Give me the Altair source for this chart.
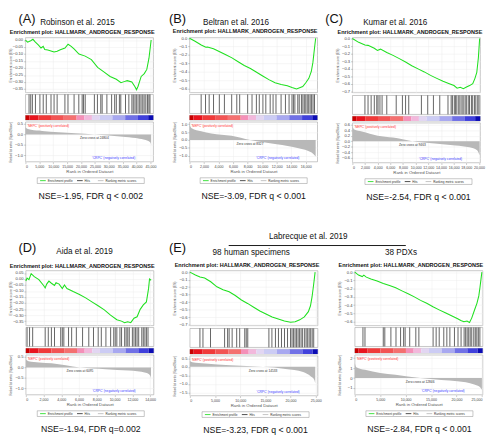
import altair as alt
import pandas as pd

# ---------------- data ----------------
TITLE = "Enrichment plot: HALLMARK_ANDROGEN_RESPONSE"
nse = ["NSE=-1.95, FDR q < 0.002", "NSE=-3.09, FDR q < 0.001", "NSE=-2.54, FDR q < 0.001",
       "NSE=-1.94, FDR q=0.002", "NSE=-3.23, FDR q < 0.001", "NSE=-2.84, FDR q < 0.001"]
zero_cross = [24804, 8327, 9463, 6095, 14533, 12846]
rank_max = [46000, 17600, 20200, 14400, 25400, 25150]
x_tick_step = [5000, 2000, 2000, 2000, 5000, 5000]
x_tick_max = [45000, 16000, 20000, 14000, 25000, 25000]

es_domain = [[-0.375, 0.017], [-0.647, 0.007], [-0.712, 0.012], [-0.387, 0.07], [-0.71, 0.02], [-0.647, 0.018]]
es_ticks = [[0.0, -0.05, -0.10, -0.15, -0.20, -0.25, -0.30, -0.35],
            [0.0, -0.1, -0.2, -0.3, -0.4, -0.5, -0.6],
            [0.0, -0.1, -0.2, -0.3, -0.4, -0.5, -0.6, -0.7],
            [0.05, 0.0, -0.05, -0.10, -0.15, -0.20, -0.25, -0.30, -0.35],
            [0.0, -0.1, -0.2, -0.3, -0.4, -0.5, -0.6, -0.7],
            [0.0, -0.1, -0.2, -0.3, -0.4, -0.5, -0.6]]
es_format = [".2f", ".1f", ".1f", ".2f", ".1f", ".1f"]

metric_domain = [[-1.3, 0.6], [-1.38, 1.15], [-0.77, 0.66], [-1.3, 0.6], [-1.68, 0.64], [-1.67, 2.33]]
metric_ticks = [[0.5, 0.0, -0.5, -1.0], [1.0, 0.5, 0.0, -0.5, -1.0],
                [0.6, 0.4, 0.2, 0.0, -0.2, -0.4, -0.6], [0.5, 0.0, -0.5, -1.0],
                [0.5, 0.0, -0.5, -1.0, -1.5], [2, 1, 0, -1]]
metric_format = [".1f", ".1f", ".1f", ".1f", ".1f", "d"]

# running enrichment score (rank in thousands, ES)
es_rank_k = [
    [0, 0.78, 1.90, 2.69, 3.58, 4.70, 5.60, 6.38, 6.94, 8.06, 9.18, 10.30, 11.42, 12.54, 14.22, 15.34, 16.46,
     17.57, 19.25, 21.49, 23.73, 25.97, 28.21, 30.45, 32.69, 34.37, 35.49, 36.60, 38.28, 39.40, 39.96, 40.52,
     41.64, 42.76, 43.66, 44.44, 45.22],
    [0, 0.76, 1.61, 2.24, 2.46, 3.30, 4.15, 4.99, 5.84, 6.69, 7.53, 8.38, 9.23, 10.07, 10.92, 11.77, 12.61,
     13.46, 14.10, 14.73, 15.15, 15.58, 16.00, 16.42, 16.76, 16.98, 17.19, 17.36],
    [0, 0.99, 1.98, 2.47, 3.46, 3.95, 4.44, 5.43, 6.42, 7.41, 8.40, 9.38, 10.37, 11.36, 12.35, 13.33, 14.32,
     15.31, 16.05, 16.54, 17.04, 17.53, 18.02, 18.52, 19.01, 19.36, 19.65, 19.90, 20.10],
    [0, 0.14, 0.35, 0.60, 0.95, 1.47, 2.00, 2.18, 2.35, 2.60, 2.88, 3.23, 3.40, 3.75, 4.11, 4.35, 4.63, 4.98,
     5.33, 6.04, 6.74, 7.44, 8.14, 8.84, 9.54, 10.25, 10.77, 11.12, 11.47, 11.82, 12.18, 12.53, 12.88, 13.23,
     13.58, 13.82, 13.93, 14.11],
    [0, 1.10, 2.01, 2.93, 4.15, 5.37, 6.59, 7.80, 9.02, 10.24, 11.46, 12.68, 13.90, 15.12, 16.34, 17.56,
     18.78, 20.00, 20.92, 21.83, 22.74, 23.54, 23.96, 24.27, 24.57, 24.88],
    [0, 0.73, 1.46, 1.77, 2.26, 3.17, 4.39, 5.61, 6.83, 8.05, 9.27, 10.49, 11.71, 12.93, 14.15, 15.37, 16.59,
     17.80, 19.02, 20.24, 20.85, 21.46, 22.07, 22.56, 22.99, 23.60, 24.02, 24.39, 24.63, 24.88, 25.00],
]
es_val = [
    [0, -0.015, -0.005, 0.005, -0.015, -0.036, -0.057, -0.045, -0.068, -0.072, -0.078, -0.085, -0.080, -0.070,
     -0.057, -0.030, -0.045, -0.065, -0.100, -0.115, -0.140, -0.195, -0.227, -0.260, -0.280, -0.305, -0.297,
     -0.290, -0.300, -0.333, -0.355, -0.330, -0.260, -0.240, -0.210, -0.130, 0.0],
    [0, -0.036, -0.08, -0.108, -0.105, -0.126, -0.162, -0.198, -0.234, -0.28, -0.324, -0.36, -0.406, -0.45,
     -0.493, -0.53, -0.55, -0.565, -0.586, -0.604, -0.59, -0.576, -0.53, -0.478, -0.396, -0.288, -0.126, 0.0],
    [0, -0.05, -0.086, -0.09, -0.128, -0.156, -0.14, -0.183, -0.222, -0.265, -0.31, -0.358, -0.40, -0.44,
     -0.486, -0.525, -0.564, -0.595, -0.62, -0.654, -0.642, -0.66, -0.64, -0.62, -0.595, -0.525, -0.447,
     -0.253, 0.0],
    [-0.017, 0.007, -0.005, 0.045, 0.02, -0.005, -0.054, -0.074, -0.042, -0.017, -0.035, -0.054, -0.03, -0.042,
     -0.079, -0.05, -0.079, -0.091, -0.104, -0.128, -0.157, -0.19, -0.222, -0.257, -0.30, -0.338, -0.35,
     -0.363, -0.355, -0.363, -0.326, -0.314, -0.252, -0.215, -0.19, -0.08, 0.0, -0.01],
    [0, -0.039, -0.066, -0.078, -0.128, -0.195, -0.233, -0.26, -0.311, -0.37, -0.416, -0.467, -0.517, -0.556,
     -0.595, -0.623, -0.65, -0.665, -0.66, -0.634, -0.595, -0.525, -0.447, -0.33, -0.175, 0.0],
    [0, -0.036, -0.054, -0.036, -0.061, -0.083, -0.108, -0.137, -0.162, -0.19, -0.227, -0.263, -0.30, -0.342,
     -0.378, -0.42, -0.457, -0.493, -0.529, -0.565, -0.586, -0.60, -0.593, -0.61, -0.557, -0.45, -0.378,
     -0.288, -0.18, -0.054, 0.0],
]

# gene-set hits (rank in thousands)
hits_k = [
    [1.3, 1.9, 2.5, 3.6, 5.2, 6.4, 7.5, 9.2, 10.3, 11.4, 14.2, 15.3, 17.5, 19.2, 20.4, 20.9, 21.5, 24.8, 25.9,
     27.1, 27.6, 29.3, 31.0, 32.1, 32.7, 33.8, 34.3, 36.0, 37.2, 38.3, 38.8, 39.4, 39.9, 40.5, 41.1, 41.6,
     42.2, 42.7, 43.3, 43.9, 44.4, 44.8],
    [1.6, 2.2, 2.7, 3.3, 4.1, 4.8, 5.8, 6.5, 6.9, 8.0, 8.6, 9.2, 9.6, 10.1, 10.5, 11.1, 11.5, 11.9, 12.6, 13.2,
     13.7, 14.1, 14.3, 14.5, 14.9, 15.1, 15.4, 15.6, 15.8, 16.0, 16.2, 16.4, 16.6, 16.8, 17.0, 17.2],
    [1.98, 2.47, 2.96, 3.46, 3.85, 4.05, 4.35, 4.69, 5.43, 6.92, 7.9, 8.4, 8.9, 10.9, 11.9, 12.8, 13.8, 15.1,
     15.6, 15.8, 16.1, 16.3, 16.5, 16.8, 17.0, 17.3, 17.5, 17.8, 18.0, 18.3, 18.5, 18.8, 19.0, 19.3, 19.5,
     19.8, 20.0],
    [0.14, 0.42, 0.77, 2.18, 2.53, 2.88, 3.23, 3.93, 4.11, 4.28, 4.81, 5.16, 5.69, 6.39, 7.09, 7.62, 8.15, 8.5,
     9.02, 9.55, 9.9, 10.07, 10.25, 10.6, 10.78, 11.13, 11.3, 11.48, 11.65, 12.0, 12.18, 12.36, 12.53, 12.71,
     13.06, 13.23, 13.41, 13.58, 13.76],
    [2.0, 2.6, 4.1, 6.9, 7.5, 7.8, 8.4, 9.3, 9.9, 10.9, 11.2, 11.5, 15.7, 16.3, 17.0, 17.6, 18.2, 18.8, 19.4,
     20.0, 20.3, 20.6, 20.9, 21.2, 21.5, 21.8, 22.1, 22.4, 22.8, 23.1, 23.4, 23.7, 24.0, 24.3, 24.6],
    [1.6, 2.0, 5.6, 5.9, 7.1, 8.1, 9.0, 9.6, 9.9, 10.8, 12.0, 12.6, 15.4, 16.0, 16.6, 17.5, 18.1, 18.7, 19.6,
     20.3, 20.9, 21.5, 21.8, 22.1, 22.4, 22.7, 23.0, 23.4, 23.7, 24.0, 24.3, 24.6],
]

# ranked list metric (rank in thousands, metric)
metric_rank_k = [
    [0, 0.5, 2, 6, 12, 18, 24.804, 30, 36, 41, 44, 45, 45.2],
    [0, 0.3, 1.6, 3, 5.8, 8.327, 12, 13.5, 15, 16.8, 17.36],
    [0, 0.3, 1.5, 4, 6.4, 9.463, 13, 16.3, 18.5, 19.7, 20.1],
    [0, 0.3, 1.5, 2.9, 6.095, 9, 11.6, 13.5, 14, 14.1],
    [0, 0.5, 3, 8, 14.533, 19, 22.5, 24, 24.7, 24.9],
    [0, 0.3, 2, 5, 8, 12.846, 17, 20.2, 23.5, 24.6, 25.0],
]
metric_val = [
    [0.33, 0.28, 0.22, 0.17, 0.11, 0.06, 0.0, -0.05, -0.12, -0.2, -0.3, -0.4, -0.5],
    [0.95, 0.75, 0.56, 0.42, 0.27, 0.0, -0.27, -0.38, -0.52, -0.8, -1.05],
    [0.55, 0.42, 0.35, 0.2, 0.13, 0.0, -0.08, -0.15, -0.22, -0.32, -0.5],
    [0.38, 0.3, 0.24, 0.2, 0.0, -0.08, -0.15, -0.25, -0.38, -0.5],
    [0.34, 0.27, 0.2, 0.1, 0.0, -0.12, -0.3, -0.55, -0.75, -0.95],
    [1.5, 1.1, 0.83, 0.5, 0.33, 0.0, -0.2, -0.33, -0.65, -0.9, -1.17],
]

# colour bar (segment ends as fraction of the list) and colours
seg_edges = [0.03, 0.10, 0.20, 0.30, 0.40, 0.46, 0.52, 0.58, 0.68, 0.78, 0.88, 0.96, 1.0]
seg_colors = ["#c80000", "#e8141e", "#f03a3a", "#f25454", "#f47070", "#f490b8", "#f2b8dc",
              "#e2d6f2", "#ccccf4", "#a8a8f0", "#7070e6", "#4040dc", "#0c0cb4"]

legend_items = ["Enrichment profile", "Hits", "Ranking metric scores"]
legend_colors = ["#22dd22", "#333333", "#bbbbbb"]

# headers
top_letters = ["(A)", "(B)", "(C)"]
top_authors = ["Robinson et al. 2015", "Beltran et al. 2016", "Kumar et al. 2016"]
bottom_letters = ["(D)", "(E)"]
bottom_authors = ["Aida et al. 2019", "98 human specimens", "38 PDXs"]
group_label = "Labrecque et al. 2019"

# ---------------- layout ----------------
W = 135
H_ES, H_HIT, H_CB, H_M = 58, 20, 5, 42
GREEN = "#1fe01f"
LEG_W = 113
leg_sym_x = [3, 42, 64]   # legend layout (pixels inside the legend box)
one = alt.Data(values=[{}])


def make_panel(i):
    n = rank_max[i]
    xs = alt.Scale(domain=[0, n], nice=False, zero=False)
    ys_m = alt.Scale(domain=metric_domain[i], nice=False, zero=False)
    ticks = list(range(0, x_tick_max[i] + 1, x_tick_step[i]))
    blank_y = alt.Axis(labels=False, ticks=False, domain=False, grid=False, title=" ")
    x_axis = alt.Axis(values=ticks, format=",d", title="Rank in Ordered Dataset", grid=True,
                      labelOverlap=False, labelFontSize=3.8)
    y_axis = alt.Axis(values=metric_ticks[i], format=metric_format[i],
                      title="Ranked list metric (Signal2Noise)", grid=True, titleFontSize=2.9)

    es_df = pd.DataFrame({"rank": [r * 1000 for r in es_rank_k[i]], "es": es_val[i]})
    es = alt.Chart(es_df).mark_line(color=GREEN, strokeWidth=1.1).encode(
        x=alt.X("rank:Q", scale=xs, axis=alt.Axis(values=ticks, labels=False, ticks=False, domain=False,
                                                   title=None, grid=True)),
        y=alt.Y("es:Q", scale=alt.Scale(domain=es_domain[i], nice=False, zero=False),
                axis=alt.Axis(values=es_ticks[i], format=es_format[i], title="Enrichment score (ES)", grid=True)),
    ).properties(width=W, height=H_ES)

    hit_df = pd.DataFrame({"rank": [r * 1000 for r in hits_k[i]]})
    hit = alt.Chart(hit_df).transform_calculate(lo="0", hi="1").mark_rule(
        color="#111111", strokeWidth=0.8, opacity=0.85).encode(
        x=alt.X("rank:Q", scale=xs, axis=None),
        y=alt.Y("lo:Q", scale=alt.Scale(domain=[0, 1]), axis=blank_y),
        y2="hi:Q",
    ).properties(width=W, height=H_HIT)

    lo = [0.0] + seg_edges[:-1]
    cb_df = pd.DataFrame({"start": [f * n for f in lo], "end": [f * n for f in seg_edges], "col": seg_colors})
    cb = alt.Chart(cb_df).transform_calculate(lo="0", hi="1").mark_rect().encode(
        x=alt.X("start:Q", scale=xs, axis=None), x2="end:Q",
        y=alt.Y("lo:Q", scale=alt.Scale(domain=[0, 1]), axis=blank_y), y2="hi:Q",
        color=alt.Color("col:N", scale=None),
    ).properties(width=W, height=H_CB)

    m_df = pd.DataFrame({"rank": [r * 1000 for r in metric_rank_k[i]], "m": metric_val[i]})
    area = alt.Chart(m_df).transform_calculate(base="0").mark_area(color="#b8b8b8", interpolate="monotone").encode(
        x=alt.X("rank:Q", scale=xs, axis=x_axis),
        y=alt.Y("m:Q", scale=ys_m, axis=y_axis),
        y2="base:Q",
    )
    pos_txt = alt.Chart(one).mark_text(text="'NEPC' (positively correlated)", color="#ff3030", fontSize=3.4,
                                       align="left", baseline="top").encode(x=alt.value(2), y=alt.value(2))
    neg_txt = alt.Chart(one).mark_text(text="'CRPC' (negatively correlated)", color="#3a3aff", fontSize=3.4,
                                       align="center", baseline="bottom").encode(
        x=alt.value(W * 0.69), y=alt.value(H_M - 2))
    zero_txt = alt.Chart(one).mark_text(text=f"Zero cross at {zero_cross[i]}", color="#333333", fontSize=3.4,
                                        baseline="top", dy=2).encode(
        x=alt.XDatum(zero_cross[i], scale=xs, axis=x_axis),
        y=alt.YDatum(0, scale=ys_m, axis=y_axis))
    metric = alt.layer(area, pos_txt, neg_txt, zero_txt).properties(width=W, height=H_M)

    core = alt.vconcat(es, hit, cb, metric, spacing=0).properties(
        title=alt.TitleParams(TITLE, fontSize=5.8, fontWeight="bold", anchor="middle", offset=2, color="#111111"))

    leg_layers = []
    for k in range(3):
        leg_layers.append(alt.Chart(one).mark_rule(color=legend_colors[k], strokeWidth=0.9).encode(
            x=alt.value(leg_sym_x[k]), x2=alt.value(leg_sym_x[k] + 6), y=alt.value(3)))
        leg_layers.append(alt.Chart(one).mark_text(text=legend_items[k], align="left", baseline="middle",
                                                   fontSize=3.3, color="#333333").encode(
            x=alt.value(leg_sym_x[k] + 8), y=alt.value(3)))
    legend = alt.layer(*leg_layers).properties(width=LEG_W, height=6,
                                               view=alt.ViewConfig(stroke="#888888", strokeWidth=0.5))

    nse_c = alt.Chart(one).mark_text(text=nse[i], fontSize=9.2, color="#111111", align="center",
                                     baseline="middle").encode(x=alt.value(76), y=alt.value(8)).properties(
        width=152, height=14, view=alt.ViewConfig(stroke="transparent"))

    return alt.vconcat(core, legend, nse_c, spacing=3, center=True)


def label(text, x, y, size, align="left"):
    return alt.Chart(one).mark_text(text=text, fontSize=size, align=align, baseline="top",
                                    color="#111111").encode(x=alt.value(x), y=alt.value(y))


H1 = 15
header1 = alt.layer(
    label(top_letters[0], 0, 0, 13.5), label(top_authors[0], 23, 5.5, 8.6),
    label(top_letters[1], 159, 0, 13.5), label(top_authors[1], 195, 5.5, 8.6),
    label(top_letters[2], 324, 0, 13.5), label(top_authors[2], 364, 5.5, 8.6),
).properties(width=470, height=H1, view=alt.ViewConfig(stroke="transparent"))

H2 = 60
line = alt.Chart(one).mark_rule(color="#111111", strokeWidth=1).encode(
    x=alt.value(222), x2=alt.value(409), y=alt.value(43.5))
header2 = alt.layer(
    label(bottom_letters[0], 0, 39, 13.5), label(bottom_authors[0], 40, 45, 8.6),
    label(bottom_letters[1], 159, 39, 13.5), label(bottom_authors[1], 205, 46, 8.6),
    label(group_label, 306, 30, 8.6, "center"), line,
    label(bottom_authors[2], 387, 46, 8.6),
).properties(width=470, height=H2, view=alt.ViewConfig(stroke="transparent"))

row1 = alt.hconcat(*[make_panel(i) for i in range(3)], spacing=9)
row2 = alt.hconcat(*[make_panel(i) for i in range(3, 6)], spacing=9)

chart = alt.vconcat(header1, row1, header2, row2, spacing=0).properties(
    padding={"top": -8, "left": 0, "right": 0, "bottom": 0}, background="white"
).configure(font="Liberation Sans").configure_axis(
    labelFontSize=4.3, titleFontSize=3.6, labelColor="#444444", titleColor="#555555", tickColor="#999999",
    tickSize=2, tickWidth=0.5, domain=False, gridColor="#ececec", gridWidth=0.5, labelPadding=1,
    titlePadding=1, titleFontWeight="normal"
).configure_axisX(titleFontSize=4.5).configure_axisY(minExtent=13, maxExtent=13).configure_view(
    stroke="#a0a0a0", strokeWidth=0.6)

chart.save("out.html", embed_options={"renderer": "svg", "actions": False})
